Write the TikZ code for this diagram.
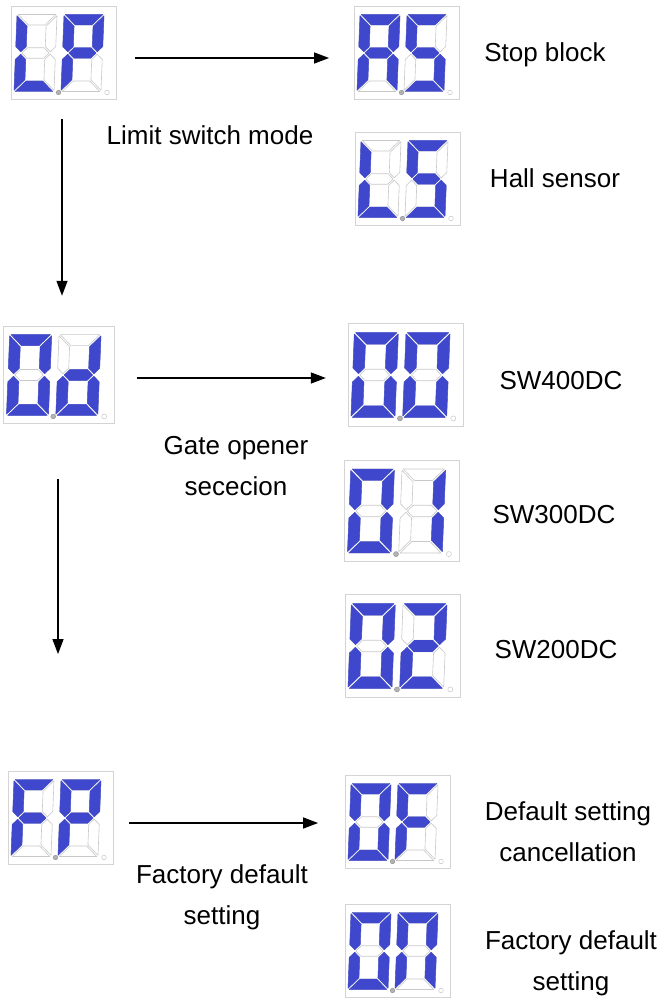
\documentclass[tikz,border=0pt]{standalone}
\usepackage{fontspec}
\setmainfont{Liberation Sans}
\usetikzlibrary{arrows.meta}

\definecolor{segblue}{RGB}{63,72,204}
\definecolor{seggray}{RGB}{200,200,200}
\definecolor{boxgray}{RGB}{212,212,212}
\definecolor{dotgray}{RGB}{178,178,178}

% segments of one digit, origin at its top left corner
\newcommand{\sega}{(1.2,0) -- (38.8,0) -- (28.3,10.5) -- (11.7,10.5) -- cycle}
\newcommand{\segb}{(40,1.2) -- (29.5,11.7) -- (29.5,32.05) -- (34.75,37.3) -- (40,32.05) -- cycle}
\newcommand{\segc}{(40,75.8) -- (29.5,65.3) -- (29.5,44.95) -- (34.75,39.7) -- (40,44.95) -- cycle}
\newcommand{\segd}{(1.2,77) -- (11.7,66.5) -- (28.3,66.5) -- (38.8,77) -- cycle}
\newcommand{\sege}{(0,75.8) -- (10.5,65.3) -- (10.5,44.95) -- (5.25,39.7) -- (0,44.95) -- cycle}
\newcommand{\segf}{(0,1.2) -- (10.5,11.7) -- (10.5,32.05) -- (5.25,37.3) -- (0,32.05) -- cycle}
\newcommand{\segg}{(6.45,38.5) -- (11.7,33.25) -- (28.3,33.25) -- (33.55,38.5) -- (28.3,43.75) -- (11.7,43.75) -- cycle}

\newcommand{\segdigit}[2]{% centre, lit segments
  \begin{scope}[shift={#1}, xslant=0.04, shift={(-20,-38.5)}]
    \foreach \s in {a,b,c,d,e,f,g} {\draw[segunlit] \csname seg\s\endcsname;}
    \foreach \s in {#2} {\filldraw[seglit] \csname seg\s\endcsname;}
  \end{scope}}

\newcommand{\segdisplay}[5][1]{% scale, name, centre, left digit, right digit
  \node[dispbox, minimum width=#1*105pt, minimum height=#1*93pt] (#2) at #3 {};
  \begin{scope}[shift={#3}, scale=#1]
    \segdigit{(-28.5,0)}{#4}
    \segdigit{(18.5,0)}{#5}
    \filldraw[dotfilled] (-5.5,39.5) circle (2.3pt);
    \filldraw[dotempty] (43,39.5) circle (2.3pt);
  \end{scope}}

\begin{document}
\begin{tikzpicture}[
    x=1pt, y=-1pt,
    dispbox/.style={draw=boxgray, line width=0.8pt, fill=white, inner sep=0pt},
    seglit/.style={fill=segblue, draw=segblue, line width=0.4pt, line join=round},
    segunlit/.style={draw=seggray, line width=0.6pt, line join=round},
    dotfilled/.style={fill=dotgray, draw=dotgray!80!black, line width=0.4pt},
    dotempty/.style={fill=white, draw=seggray, line width=0.5pt},
    arr/.style={-{Triangle[length=15pt, width=11pt]}, line width=1.3pt},
    lbl/.style={font=\fontsize{26}{41}\selectfont, align=center, inner sep=0pt}
  ]
  \useasboundingbox (0,0) rectangle (665,1003);

  % limit switch mode
  \segdisplay{lp}{(64,53)}{f,e,d}{a,b,f,g,e}
  \segdisplay{as}{(407,53)}{a,b,c,e,f,g}{a,f,g,c,d}
  \segdisplay{ls}{(408,179)}{f,e,d}{a,f,g,c,d}
  \node[lbl] (tlimit) at (210,135) {Limit switch mode};
  \node[lbl] (tstop) at (545,55) {Stop block};
  \node[lbl] (thall) at (555,178) {Hall sensor};
  \draw[arr, shorten <=18pt, shorten >=25pt] ([yshift=-5pt]lp.east) -- ([yshift=-5pt]lp.east -| as.west);

  % gate opener selection
  \segdisplay[1.05]{od}{(59,375)}{a,b,c,d,e,f}{b,c,d,e,g}
  \segdisplay[1.1]{ooa}{(406,375)}{a,b,c,d,e,f}{a,b,c,d,e,f}
  \segdisplay[1.09]{oi}{(402,511)}{a,b,c,d,e,f}{b,c}
  \segdisplay[1.1]{ot}{(403,646)}{a,b,c,d,e,f}{a,b,g,e,d}
  \node[lbl] (tgate) at (236,466) {Gate opener\\sececion};
  \node[lbl] (tfour) at (561,381) {SW400DC};
  \node[lbl] (tthree) at (554,515) {SW300DC};
  \node[lbl] (ttwo) at (556,650) {SW200DC};
  \draw[arr, shorten <=19pt, shorten >=30pt] ([xshift=-2pt]lp.south) -- ([xshift=-2pt]lp.south |- od.north);
  \draw[arr, shorten <=22pt, shorten >=22pt] ([yshift=-3pt]od.east) -- ([yshift=-3pt]od.east -| ooa.west);

  % factory default setting
  \segdisplay{fp}{(61,818)}{a,f,g,e}{a,b,f,g,e}
  \segdisplay{of}{(398,822)}{a,b,c,d,e,f}{a,f,g,e}
  \segdisplay{oob}{(398,951)}{a,b,c,d,e,f}{a,b,c,e,f}
  \node[lbl] (tfactl) at (222,897) {Factory default\\setting};
  \node[lbl] (tdefault) at (568,832) {Default setting\\cancellation};
  \node[lbl] (tfactr) at (571,963) {Factory default\\setting};
  \draw[arr, shorten <=55pt, shorten >=117pt] ([xshift=-1pt]od.south) -- ([xshift=-1pt]od.south |- fp.north);
  \draw[arr, shorten <=15pt, shorten >=27pt] ([yshift=-5pt]fp.east) -- ([yshift=-5pt]fp.east -| of.west);
\end{tikzpicture}
\end{document}
